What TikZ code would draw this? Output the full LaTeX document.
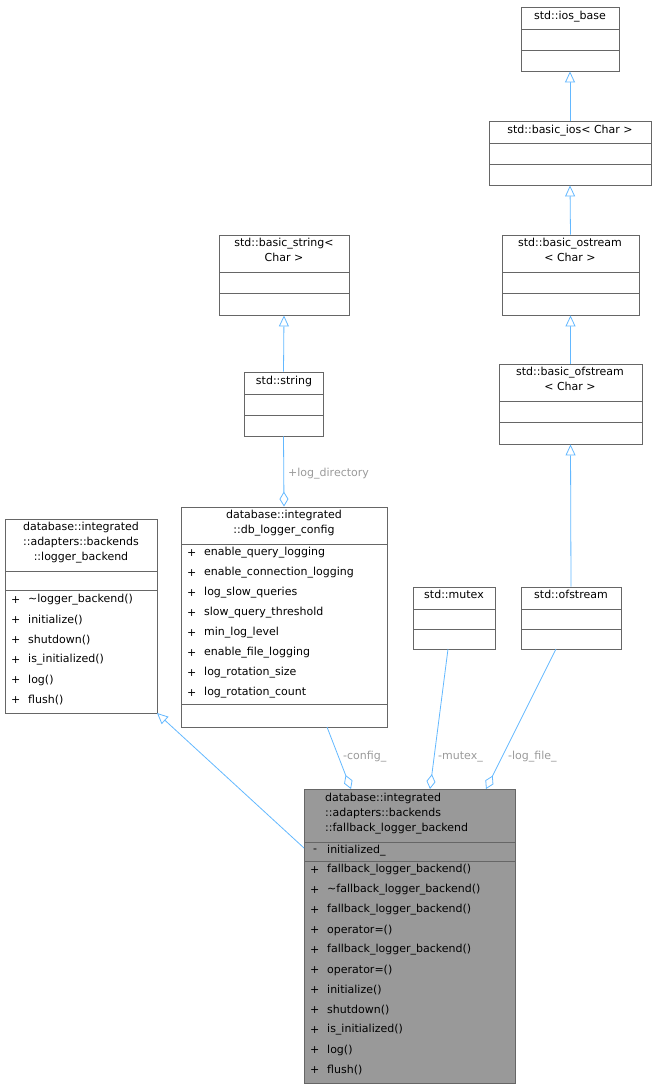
\documentclass[tikz,border=0pt]{standalone}
\usepackage{fontspec}
\setmainfont{DejaVu Sans}
\usetikzlibrary{arrows.meta}
\definecolor{edge}{HTML}{63B8FF}
\definecolor{bord}{HTML}{666666}
\definecolor{lbl}{HTML}{9A9A9A}
\newcommand\umlbox[6][white]{\node[draw=bord,fill=#1,line width=0.9pt,inner sep=0,minimum width={(#5-#3)*1pt},minimum height={(#6-#4)*1pt}] (#2) at ({(#3+#5)/2},{(#4+#6)/2}) {};}
\newcommand\hs[3]{\draw[sep] (#1,#3) -- (#2,#3);}
\begin{document}
\begin{tikzpicture}[x=1pt,y=-1pt,font=\fontsize{11}{15}\selectfont,
  sep/.style={draw=bord,line width=0.9pt},
  ttl/.style={align=center,inner sep=0,anchor=north},
  mem/.style={anchor=west,inner sep=0},
  inh/.style={draw=edge,line width=0.8pt,{Triangle[open,length=11pt,width=10pt,fill=white]}-},
  agg/.style={draw=edge,line width=0.8pt,-{Diamond[open,length=15pt,width=9pt,fill=white]}},
  el/.style={text=lbl,inner sep=0}]
\useasboundingbox (0,0) rectangle (657,1089);
% ios_base
\umlbox{iosb}{521}{7}{619}{71}\hs{521}{619}{29}\hs{521}{619}{50}
\node[ttl] (iosbt) at (570,11) {std::ios\_base};
% basic_ios
\umlbox{bios}{489}{121}{651}{185}\hs{489}{651}{143}\hs{489}{651}{164}
\node[ttl] (biost) at (570,125) {std::basic\_ios< Char >};
% basic_ostream
\umlbox{bost}{502}{235}{639}{315}\hs{502}{639}{272}\hs{502}{639}{293}
\node[ttl] (bostt) at (570,238) {std::basic\_ostream\\< Char >};
% basic_ofstream
\umlbox{bofs}{499}{364}{642}{444}\hs{499}{642}{401}\hs{499}{642}{422}
\node[ttl] (bofst) at (570,367) {std::basic\_ofstream\\< Char >};
% basic_string
\umlbox{bstr}{219}{235}{349}{315}\hs{219}{349}{272}\hs{219}{349}{293}
\node[ttl] (bstrt) at (284,238) {std::basic\_string<\\Char >};
% string
\umlbox{str}{244}{372}{323}{436}\hs{244}{323}{394}\hs{244}{323}{415}
\node[ttl] (strt) at (284,376) {std::string};
% mutex
\umlbox{mtx}{413}{587}{495}{649}\hs{413}{495}{609}\hs{413}{495}{629}
\node[ttl] (mtxt) at (454,590) {std::mutex};
% ofstream
\umlbox{ofs}{521}{587}{621}{649}\hs{521}{621}{609}\hs{521}{621}{629}
\node[ttl] (ofst) at (571,590) {std::ofstream};
% logger_backend
\umlbox{lb}{5}{519}{157}{713}\hs{5}{157}{571}\hs{5}{157}{590}
\node[ttl] (lbt) at (81,522) {database::integrated\\::adapters::backends\\::logger\_backend};
\foreach \t [count=\i from 0] in {\textasciitilde logger\_backend(),initialize(),shutdown(),is\_initialized(),log(),flush()}{
  \node[mem] (lbp\i) at (11,600+20*\i) {+};
  \node[mem] (lbm\i) at (28,600+20*\i) {\t};}
% db_logger_config
\umlbox{cfg}{181}{507}{387}{727}\hs{181}{387}{544}\hs{181}{387}{704}
\node[ttl] (cfgt) at (284,510) {database::integrated\\::db\_logger\_config};
\foreach \t [count=\i from 0] in {enable\_query\_logging,enable\_connection\_logging,log\_slow\_queries,slow\_query\_threshold,min\_log\_level,enable\_file\_logging,log\_rotation\_size,log\_rotation\_count}{
  \node[mem] (cfgp\i) at (187,553+20*\i) {+};
  \node[mem] (cfgm\i) at (204,553+20*\i) {\t};}
% fallback
\umlbox[black!40]{fb}{304}{789}{515}{1083}\hs{304}{515}{842}\hs{304}{515}{861}
\node[ttl,align=left,anchor=north west] (fbt) at (325,793) {database::integrated\\::adapters::backends\\::fallback\_logger\_backend};
\node[mem] (fbap) at (313,851) {-};
\node[mem] (fba) at (327,851) {initialized\_};
\foreach \t [count=\i from 0] in {fallback\_logger\_backend(),\textasciitilde fallback\_logger\_backend(),fallback\_logger\_backend(),operator=(),fallback\_logger\_backend(),operator=(),initialize(),shutdown(),is\_initialized(),log(),flush()}{
  \node[mem] (fbp\i) at (310,870+20*\i) {+};
  \node[mem] (fbm\i) at (327,870+20*\i) {\t};}
% edges
\draw[inh] (iosb.south) -- (bios.north);
\draw[inh] (bios.south) -- (bost.north);
\draw[inh] (bost.south) -- (bofs.north);
\draw[inh] (bofs.south) -- (ofs.north);
\draw[inh] (bstr.south) -- (str.north);
\draw[agg] (str.south) -- (cfg.north);
\node[el,anchor=west] (l1) at (288,474) {+log\_directory};
\coordinate (lbc) at (157,713);
\coordinate (fbl) at (304,848);
\draw[inh] (lbc) -- (fbl);
\coordinate (cfgb) at (327,727);
\coordinate (fb1) at (351,789);
\draw[agg] (cfgb) -- (fb1);
\node[el,anchor=west] (l2) at (343,757) {-config\_};
\coordinate (mtxb) at (448,649);
\coordinate (fb2) at (430,789);
\draw[agg] (mtxb) -- (fb2);
\node[el,anchor=west] (l3) at (438,757) {-mutex\_};
\coordinate (ofsb) at (556,649);
\coordinate (fb3) at (486,789);
\draw[agg] (ofsb) -- (fb3);
\node[el,anchor=west] (l4) at (508,757) {-log\_file\_};
\end{tikzpicture}
\end{document}
